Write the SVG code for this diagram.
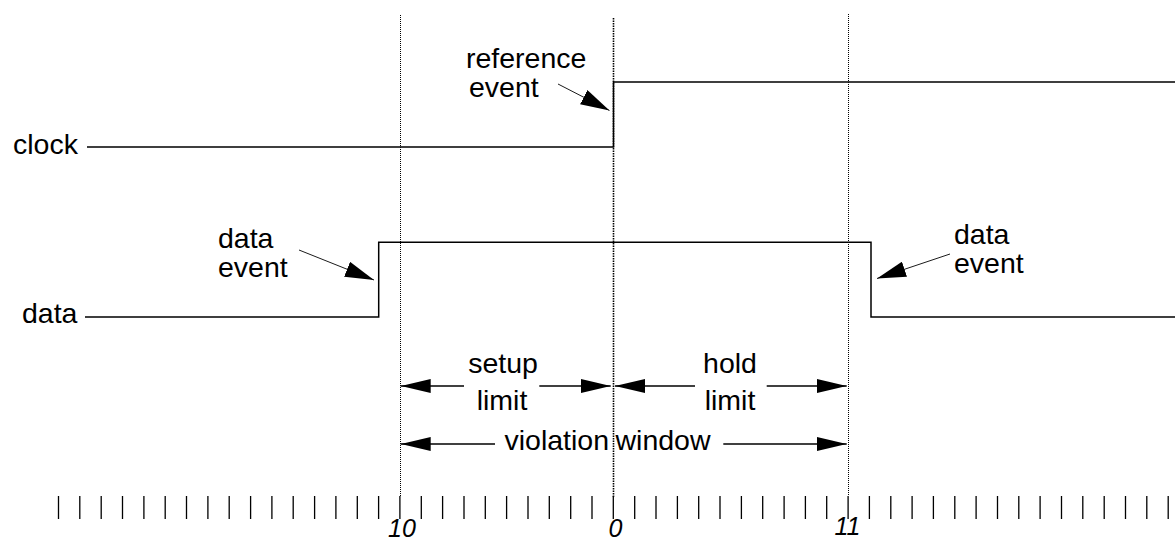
<svg xmlns="http://www.w3.org/2000/svg" width="1175" height="542" viewBox="0 0 1175 542">
<style>
text{font-family:"Liberation Sans",Arial,sans-serif;font-size:28.5px;fill:#000}
.num{font-style:italic;font-size:25px}
.sig{fill:none;stroke:#000;stroke-width:1.5}
.guide{fill:none;stroke:#000;stroke-width:1;stroke-dasharray:1 1}
.guide0{fill:none;stroke:#000;stroke-width:1.6;stroke-dasharray:1.5 1}
.tick{fill:none;stroke:#000;stroke-width:1.3}
.dim{fill:none;stroke:#000;stroke-width:1.3}
.call{fill:none;stroke:#000;stroke-width:0.9}
</style>
<defs>
<marker id="dimhead" viewBox="0 0 30 14" refX="30" refY="7" markerWidth="30" markerHeight="14" markerUnits="userSpaceOnUse" orient="auto-start-reverse"><path d="M0 0L30 7L0 14z" fill="#000"/></marker>
<marker id="callhead" viewBox="0 0 29 16" refX="29" refY="8" markerWidth="29" markerHeight="16" markerUnits="userSpaceOnUse" orient="auto"><path d="M0 0L29 8L0 16z" fill="#000"/></marker>
</defs>
<rect width="1175" height="542" fill="#fff"/>
<g id="guides">
<line class="guide" x1="400.5" y1="15" x2="400.5" y2="496"/>
<line class="guide0" x1="613.5" y1="18" x2="613.5" y2="497"/>
<line class="guide" x1="848.5" y1="14" x2="848.5" y2="495"/>
</g>
<g id="clock">
<text x="13" y="154">clock</text>
<path class="sig" d="M87 147H613.5V82H1175"/>
</g>
<g id="data">
<text x="22" y="323">data</text>
<path class="sig" d="M85 317H378.7V242.3H871V317H1175"/>
</g>
<g id="ref-event">
<text x="466" y="68">reference</text>
<text x="469" y="97">event</text>
</g>
<g id="data-event-left">
<text x="218" y="248">data</text>
<text x="218" y="277">event</text>
</g>
<g id="data-event-right">
<text x="954" y="244">data</text>
<text x="954" y="273">event</text>
</g>
<g id="setup-limit">
<text x="503" y="373" text-anchor="middle">setup</text>
<text x="502" y="410" text-anchor="middle">limit</text>
</g>
<g id="hold-limit">
<text x="730" y="373" text-anchor="middle">hold</text>
<text x="730" y="410" text-anchor="middle">limit</text>
</g>
<g id="violation-window">
<text x="504.5" y="450">violation</text>
<text x="615.5" y="450">window</text>
</g>
<g id="connectors">
<line class="call" x1="558" y1="84" x2="609.5" y2="110.5" marker-end="url(#callhead)"/>
<line class="call" x1="299" y1="250" x2="374" y2="280" marker-end="url(#callhead)"/>
<line class="call" x1="950" y1="254" x2="877" y2="278.5" marker-end="url(#callhead)"/>
<line class="dim" x1="400.7" y1="386" x2="464" y2="386" marker-start="url(#dimhead)"/>
<line class="dim" x1="539.3" y1="386" x2="610.7" y2="386" marker-end="url(#dimhead)"/>
<line class="dim" x1="615" y1="386" x2="695" y2="386" marker-start="url(#dimhead)"/>
<line class="dim" x1="766.7" y1="386" x2="846.7" y2="386" marker-end="url(#dimhead)"/>
<line class="dim" x1="400.7" y1="444" x2="495" y2="444" marker-start="url(#dimhead)"/>
<line class="dim" x1="723.3" y1="444" x2="846.7" y2="444" marker-end="url(#dimhead)"/>
</g>
<g id="timeline">
<path class="tick" d="M58.5 496V519M79.8 496V519M101.2 496V519M122.5 496V519M143.9 496V519M165.2 496V519M186.5 496V519M207.9 496V519M229.2 496V519M250.6 496V519M271.9 496V519M293.2 496V519M314.6 496V519M335.9 496V519M357.3 496V519M378.6 496V519M399.9 496V519M421.3 496V519M442.6 496V519M464 496V519M485.3 496V519M506.6 496V519M528 496V519M549.3 496V519M570.7 496V519M592 496V519M613.3 496V519M634.7 496V519M656 496V519M677.4 496V519M698.7 496V519M720 496V519M741.4 496V519M762.7 496V519M784.1 496V519M805.4 496V519M826.7 496V519M848.1 496V519M869.4 496V519M890.8 496V519M912.1 496V519M933.4 496V519M954.8 496V519M976.1 496V519M997.5 496V519M1018.8 496V519M1040.1 496V519M1061.5 496V519M1082.8 496V519M1104.2 496V519M1125.5 496V519M1146.8 496V519M1168.2 496V519"/>
<text class="num" x="402" y="537" text-anchor="middle">10</text>
<text class="num" x="615.5" y="537" text-anchor="middle">0</text>
<text class="num" x="847.5" y="535" text-anchor="middle">11</text>
</g>
</svg>
